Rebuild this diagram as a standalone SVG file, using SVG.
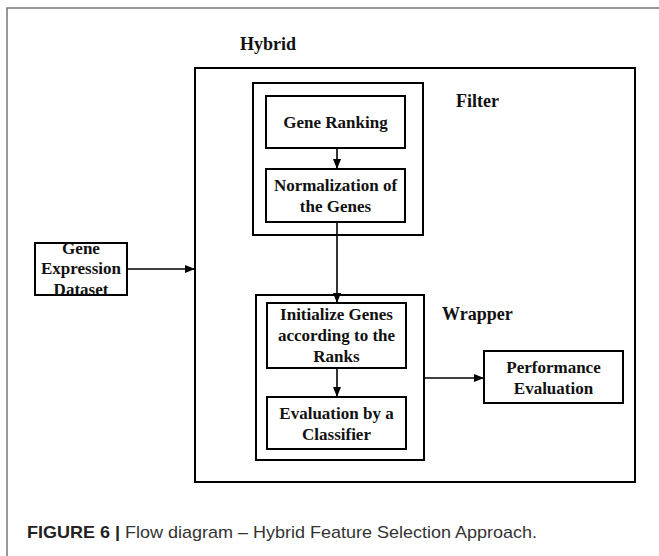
<svg xmlns="http://www.w3.org/2000/svg" width="659" height="556" viewBox="0 0 659 556">
<defs>
<marker id="ah" markerWidth="10" markerHeight="8" refX="10" refY="4" orient="auto" markerUnits="userSpaceOnUse">
<path d="M0,0 L10,4 L0,8 Z" fill="#000"/>
</marker>
<style>
.box{fill:#fff;stroke:#000;stroke-width:2}
.grp{fill:none;stroke:#000;stroke-width:2}
.t{font-family:"Liberation Serif","Times New Roman",serif;font-weight:bold;font-size:17px;fill:#111;text-anchor:middle}
.lbl{font-family:"Liberation Serif","Times New Roman",serif;font-weight:bold;font-size:18px;fill:#111}
.c{stroke:#000;stroke-width:1.6;fill:none}
.cap{font-family:"Liberation Sans",Arial,sans-serif;font-size:17px;fill:#333}
</style>
</defs>
<rect width="659" height="556" fill="#fff"/>
<path d="M7,556 V8 H659" fill="none" stroke="#777" stroke-width="1.5"/>
<g id="hybrid">
<rect class="grp" x="195" y="68" width="440" height="414"/>
<text class="lbl" x="240" y="50">Hybrid</text>
</g>
<g id="filter">
<rect class="grp" x="253" y="83" width="170" height="152"/>
<text class="lbl" x="456" y="107">Filter</text>
</g>
<g id="wrapper">
<rect class="grp" x="256" y="295" width="168" height="165"/>
<text class="lbl" x="442" y="320">Wrapper</text>
</g>
<g id="gene-ranking">
<rect class="box" x="266" y="96" width="139" height="52"/>
<text class="t" x="335.5" y="128">Gene Ranking</text>
</g>
<g id="normalization">
<rect class="box" x="266" y="169" width="139" height="53"/>
<text class="t" x="335.5" y="191">Normalization of</text>
<text class="t" x="335.5" y="212">the Genes</text>
</g>
<g id="gene-expression">
<rect class="box" x="35" y="243" width="92" height="52"/>
<text class="t" x="81" y="254">Gene</text>
<text class="t" x="81" y="274">Expression</text>
<text class="t" x="81" y="295">Dataset</text>
</g>
<g id="initialize">
<rect class="box" x="267" y="303" width="139" height="65"/>
<text class="t" x="336.5" y="320">Initialize Genes</text>
<text class="t" x="336.5" y="341">according to the</text>
<text class="t" x="336.5" y="362">Ranks</text>
</g>
<g id="evaluation">
<rect class="box" x="267" y="397" width="139" height="52"/>
<text class="t" x="336.5" y="419">Evaluation by a</text>
<text class="t" x="336.5" y="440">Classifier</text>
</g>
<g id="performance">
<rect class="box" x="484" y="351" width="139" height="52"/>
<text class="t" x="553.5" y="373">Performance</text>
<text class="t" x="553.5" y="394">Evaluation</text>
</g>
<g id="connectors">
<line class="c" x1="337" y1="148" x2="337" y2="169" marker-end="url(#ah)"/>
<line class="c" x1="337" y1="222" x2="337" y2="303" marker-end="url(#ah)"/>
<line class="c" x1="337" y1="368" x2="337" y2="397" marker-end="url(#ah)"/>
<line class="c" x1="127" y1="269" x2="195" y2="269" marker-end="url(#ah)"/>
<line class="c" x1="424" y1="378" x2="484" y2="378" marker-end="url(#ah)"/>
</g>
<text class="cap" x="27" y="538" textLength="510" lengthAdjust="spacingAndGlyphs"><tspan font-weight="bold" fill="#222">FIGURE 6 |</tspan> Flow diagram – Hybrid Feature Selection Approach.</text>
</svg>
